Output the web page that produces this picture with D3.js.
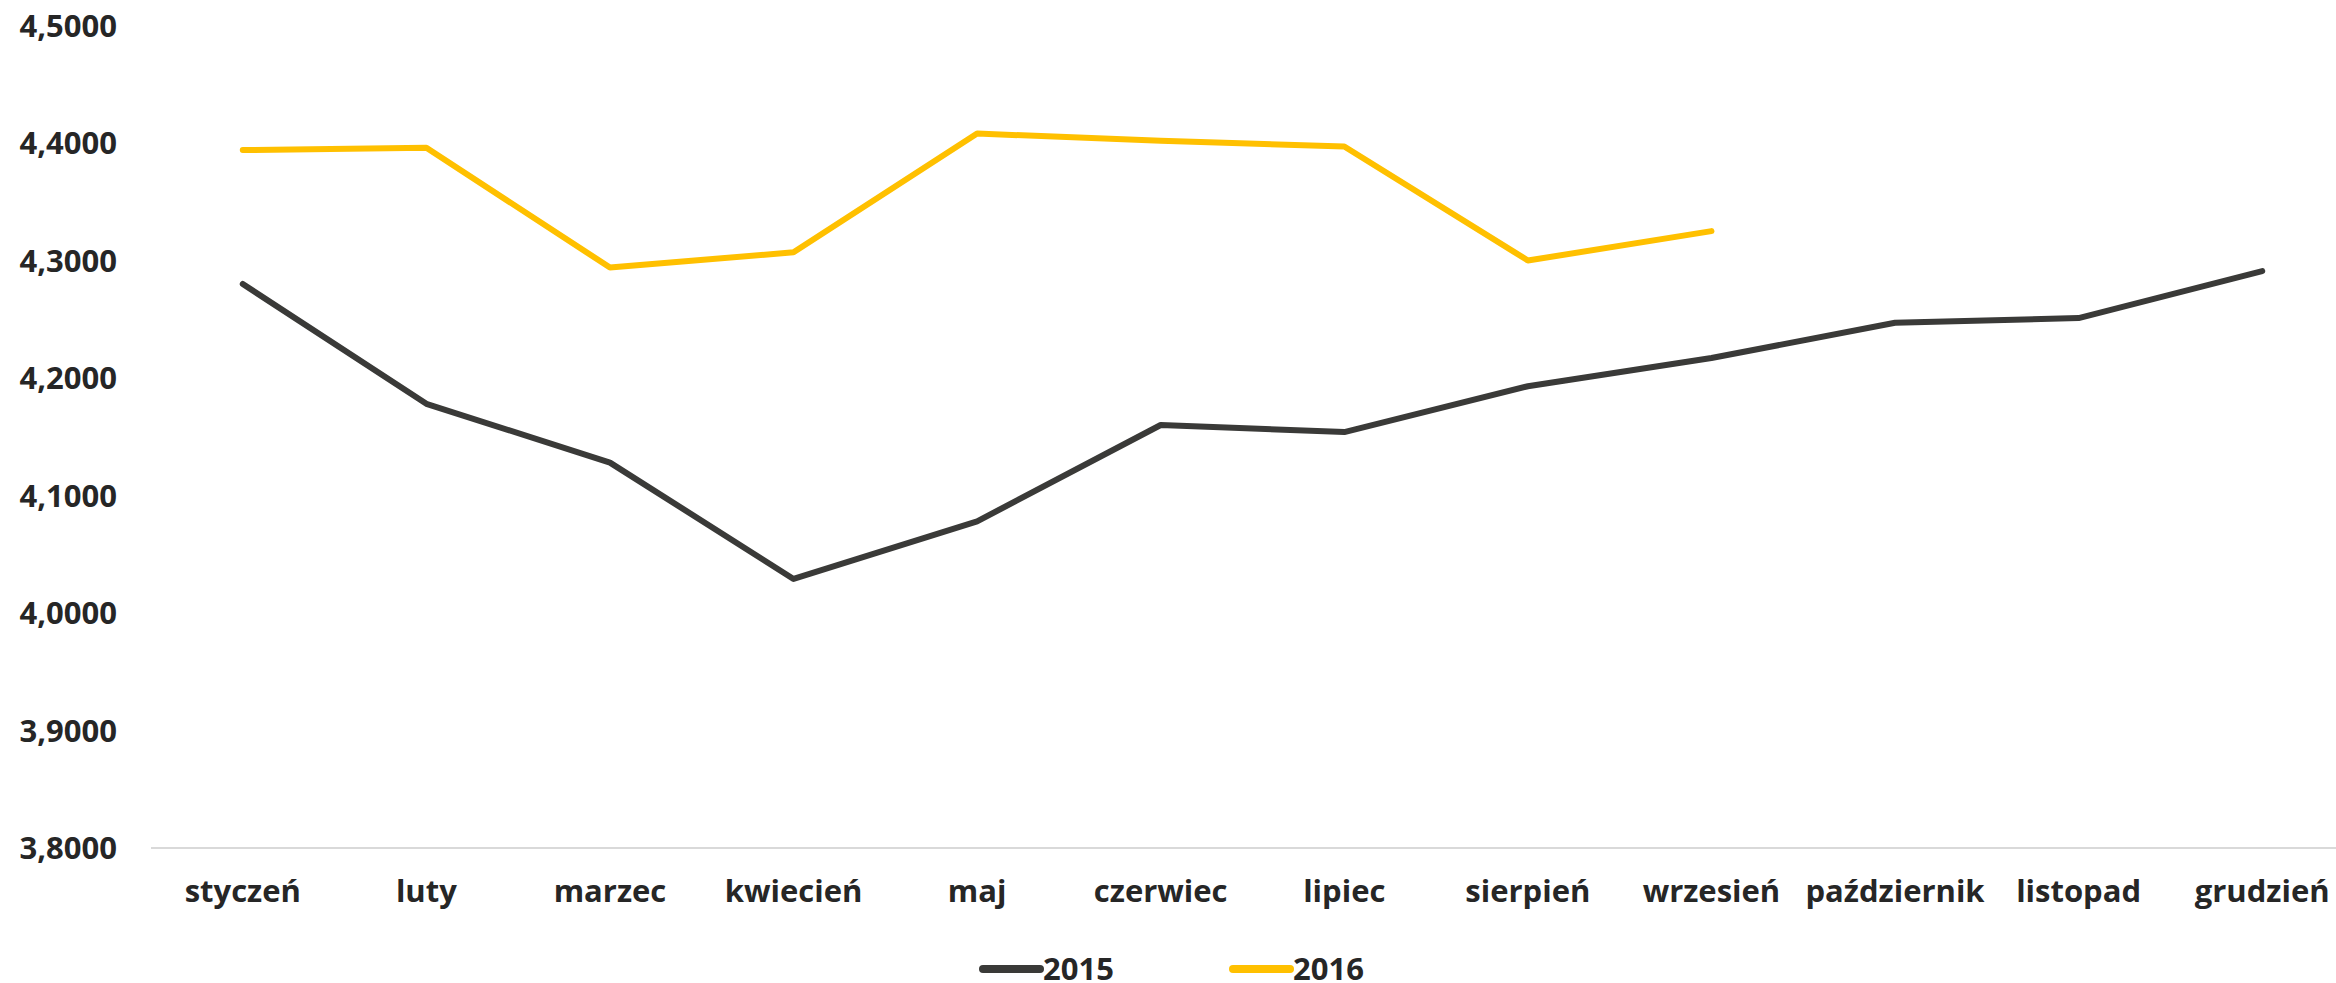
<!DOCTYPE html>
<html>
<head>
<meta charset="utf-8">
<script src="https://cdn.jsdelivr.net/npm/d3@7"></script>
<style>
	body { margin: 0; background: #fff; }
	svg { display: block; }
	text { font-family: "Open Sans", sans-serif; font-weight: 700; fill: #262626; }
</style>
</head>
<body>
<div id="chart"></div>
<script>
var months = ["styczeń", "luty", "marzec", "kwiecień", "maj", "czerwiec", "lipiec", "sierpień", "wrzesień", "październik", "listopad", "grudzień"];
var yTicks = [3.8, 3.9, 4.0, 4.1, 4.2, 4.3, 4.4, 4.5];
var years = ["2015", "2016"];
var values2015 = [4.280, 4.178, 4.128, 4.029, 4.078, 4.160, 4.154, 4.193, 4.217, 4.247, 4.251, 4.291];
var values2016 = [4.394, 4.396, 4.294, 4.307, 4.408, 4.402, 4.397, 4.300, 4.325];
var colors = ["#3a3a38", "#ffc000"];

var width = 2336, height = 983;

var svg = d3.select("#chart").append("svg")
	.attr("width", width).attr("height", height);

var x = d3.scaleBand().domain(months).range([151, 2354]);
var y = d3.scaleLinear().domain([3.8, 4.5]).range([848, 25.5]);

var fmt = function(d) { return d.toFixed(4).replace(".", ","); };

// y labels
svg.append("g").selectAll("text")
	.data(yTicks)
	.enter()
	.append("text")
	.attr("x", 117)
	.attr("y", d => y(d))
	.attr("dy", "0.36em")
	.style("font-size", "31px")
	.style("text-anchor", "end")
	.text(fmt);

// baseline
svg.append("line")
	.attr("x1", 151).attr("x2", width)
	.attr("y1", y(3.8)).attr("y2", y(3.8))
	.style("stroke", "#d9d9d9")
	.style("stroke-width", "2px");

// x labels
svg.append("g").selectAll("text")
	.data(months)
	.enter()
	.append("text")
	.attr("x", d => x(d) + x.bandwidth() / 2)
	.attr("y", 902)
	.style("font-size", "31px")
	.style("text-anchor", "middle")
	.text(d => d);

var line = d3.line()
	.x((d, i) => x(months[i]) + x.bandwidth() / 2)
	.y(d => y(d));

[values2015, values2016].forEach((vals, k) => {
	svg.append("path")
		.datum(vals)
		.attr("d", line)
		.style("fill", "none")
		.style("stroke", colors[k])
		.style("stroke-width", "6px")
		.style("stroke-linejoin", "round")
		.style("stroke-linecap", "round");
});

// legend
var legendX = [983, 1233];
var lg = svg.append("g").selectAll("g")
	.data(years)
	.enter()
	.append("g")
	.attr("transform", (d, i) => `translate(${ legendX[i] },969)`);

lg.append("line")
	.attr("x1", 0).attr("x2", 57)
	.attr("y1", 0).attr("y2", 0)
	.style("stroke", (d, i) => colors[i])
	.style("stroke-width", "8px")
	.style("stroke-linecap", "round");

lg.append("text")
	.attr("x", 60)
	.attr("y", 0)
	.attr("dy", "0.36em")
	.style("font-size", "31px")
	.text(d => d);
</script>
</body>
</html>
